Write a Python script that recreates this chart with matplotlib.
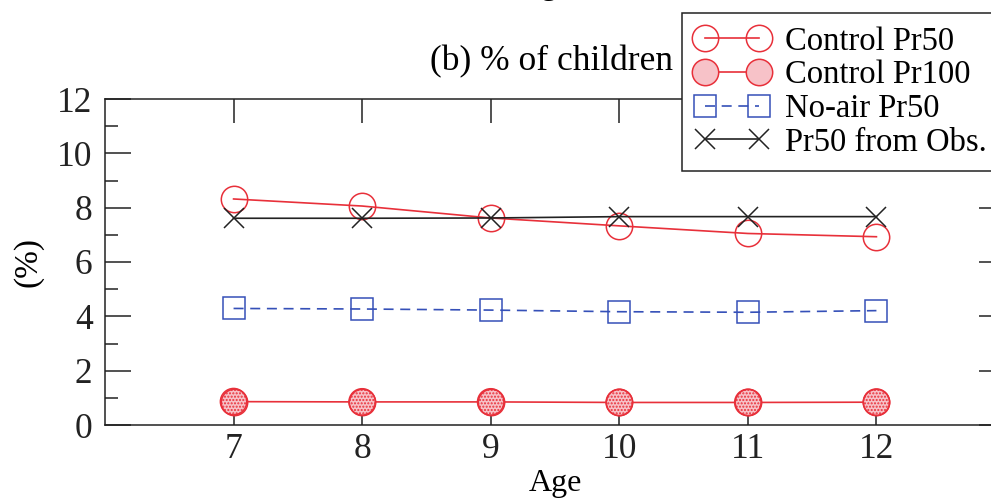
import matplotlib
matplotlib.use("Agg")
import matplotlib.pyplot as plt
from matplotlib.ticker import MultipleLocator

ages = [7, 8, 9, 10, 11, 12]
control_pr50 = [8.32, 8.06, 7.62, 7.33, 7.05, 6.93]
control_pr100 = [0.86, 0.85, 0.85, 0.83, 0.83, 0.84]
noair_pr50 = [4.29, 4.27, 4.23, 4.17, 4.15, 4.21]
obs_pr50 = [7.61, 7.61, 7.62, 7.67, 7.67, 7.67]

red = '#e8303a'
blue = '#3550b8'
black = '#222222'

plt.rcParams['font.family'] = ['Liberation Serif', 'DejaVu Serif']
plt.rcParams['hatch.color'] = red
plt.rcParams['hatch.linewidth'] = 1.0


def main():
    fig = plt.figure(figsize=(9.91, 5.01), dpi=100)
    ax = fig.add_axes([105 / 991, 76 / 501, 900 / 991, 326 / 501])

    ax.plot(ages, control_pr50, color=red, lw=1.2, marker='o', ms=19,
            mfc='none', mec=red, mew=1.1, label='Control Pr50')
    ax.plot(ages, control_pr100, color=red, lw=1.2, marker='o', ms=19,
            mfc='#f7c2c8', mec=red, mew=1.1, label='Control Pr100')
    # dotted fill of the Pr100 circles
    ax.scatter(ages, control_pr100, s=19 ** 2, facecolor='none',
               edgecolor=red, hatch='.....', linewidth=1.1, zorder=2.2)
    ax.plot(ages, noair_pr50, color=blue, lw=1.2, ls=(0, (6, 4)), marker='s',
            ms=16, mfc='none', mec=blue, mew=1.1, label='No-air Pr50')
    ax.plot(ages, obs_pr50, color=black, lw=1.2, marker='x', ms=15,
            mec=black, mew=1.1, label='Pr50 from Obs.')

    ax.set_xlim(6, 13)
    ax.set_ylim(0, 12)
    ax.set_xticks(ages)
    ax.yaxis.set_major_locator(MultipleLocator(2))
    ax.yaxis.set_minor_locator(MultipleLocator(1))
    ax.tick_params(axis='both', which='major', direction='in', top=True,
                   right=True, length=19, width=1.1, labelsize=25.5,
                   color=black, labelcolor=black)
    ax.tick_params(axis='y', which='major', length=19, pad=9)
    ax.tick_params(axis='x', which='major', length=17, pad=6)
    ax.tick_params(axis='y', which='minor', direction='in', right=True,
                   length=9, width=1.1, color=black)
    for s in ax.spines.values():
        s.set_linewidth(1.1)
        s.set_color(black)

    ax.set_xlabel('Age', fontsize=23, labelpad=2)
    ax.set_ylabel('(%)', fontsize=24, labelpad=10)

    fig.text(430 / 991, 1 - 62 / 501, '(b) % of children', fontsize=25.5,
             ha='left', va='center')
    # bottom of the x label from the panel above, cut by the figure edge
    fig.text(545 / 991, 1 + 6 / 501, 'Age', fontsize=23, ha='center',
             va='baseline')

    leg = fig.legend(loc='upper left', bbox_to_anchor=(682 / 991, 1 - 13 / 501),
                     fontsize=23.5, numpoints=2, handlelength=2.25,
                     handletextpad=0.5, labelspacing=0.1, borderpad=0.4,
                     borderaxespad=0, fancybox=False, framealpha=1,
                     edgecolor=black)
    leg.get_frame().set_linewidth(1.1)

    fig.savefig('out.png', dpi=100)


if __name__ == "__main__":
    main()
